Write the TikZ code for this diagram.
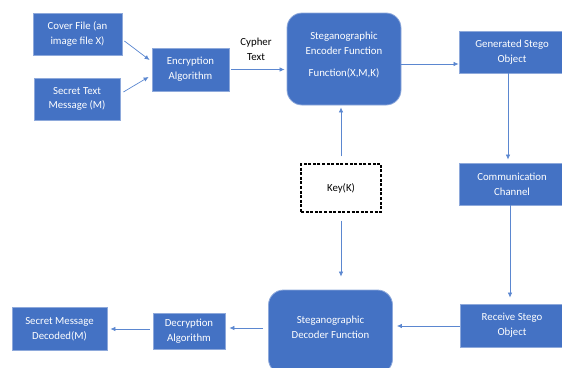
\documentclass[tikz,border=0pt]{standalone}
\usepackage{fontspec}
\setmainfont{Carlito}
\usetikzlibrary{arrows.meta,calc}
\definecolor{boxblue}{HTML}{4472C4}
\definecolor{boxedge}{HTML}{8EA9DB}
\definecolor{arrowblue}{HTML}{5B87D0}
\tikzset{
  txt/.style={font=\fontsize{10.8}{14.8}\selectfont},
  bluebox/.style={draw=boxedge, line width=0.8pt, fill=boxblue, text=white, align=center,
    txt, inner sep=0pt},
  roundbox/.style={bluebox, rounded corners=15pt},
  keybox/.style={draw=black, dash pattern=on 3pt off 1.6pt, line width=1.1pt, fill=white, align=center,
    txt, inner sep=0pt},
  plaintext/.style={align=center, txt, inner sep=0pt},
  conn/.style={draw=arrowblue, line width=0.7pt, -{Latex[length=5pt,width=4.5pt]}}
}
\begin{document}
\begin{tikzpicture}[x=1pt,y=-1pt]
\useasboundingbox (0,0) rectangle (562,367);
% top row
\node[bluebox, minimum width=89pt, minimum height=42pt] (cover) at (77.5,34) {Cover File (an\\image file X)};
\node[bluebox, minimum width=86pt, minimum height=42pt] (secret) at (77,99) {Secret Text\\Message (M)};
\node[bluebox, minimum width=77pt, minimum height=43pt] (enc) at (190.5,69.5) {Encryption\\Algorithm};
\node[plaintext] (cypher) at (256,49) {Cypher\\Text};
\node[roundbox, minimum width=114pt, minimum height=92pt] (enco) at (344,59) {};
\node[plaintext, text=white] (encotext) at (344,55) {Steganographic\\Encoder Function\\[7pt]Function(X,M,K)};
\node[bluebox, minimum width=106pt, minimum height=42pt] (gen) at (512,52) {Generated Stego\\Object};
% middle
\node[keybox, minimum width=80pt, minimum height=48pt] (key) at (341,188) {Key(K)};
\node[bluebox, minimum width=106pt, minimum height=42pt] (comm) at (512,184) {Communication\\Channel};
% bottom row
\node[bluebox, minimum width=104pt, minimum height=43pt] (recv) at (512,325.5) {Receive Stego\\Object};
\node[roundbox, minimum width=124pt, minimum height=84pt] (dec) at (330.5,332) {};
\node[plaintext, text=white] (dectext) at (330.5,327) {Steganographic\\Decoder Function};
\node[bluebox, minimum width=72pt, minimum height=36pt] (decr) at (189,331) {Decryption\\Algorithm};
\node[bluebox, minimum width=95pt, minimum height=43pt] (smd) at (59.5,329) {Secret Message\\Decoded(M)};
% connectors
\draw[conn] ($(cover.east)+(2,7)$) -- ($(enc.west)+(-2,-9.5)$);
\draw[conn] ($(secret.east)+(3,-7)$) -- ($(enc.west)+(-3,7.5)$);
\draw[conn] ($(enc.east)+(2,0)$) -- ($(enc.east -| enco.west)+(-2,0)$);
\draw[conn] ($(enco.east)+(0,5)$) -- ($(enco.east -| gen.west)+(0,5)$);
\draw[conn, shorten >=3pt] ($(gen.south)+(-4,0)$) -- ($(comm.north)+(-4,0)$);
\draw[conn, shorten >=6pt] ($(comm.south)+(-2,0)$) -- ($(recv.north)+(-2,0)$);
\draw[conn, shorten >=4pt] ($(recv.west)+(0,0.5)$) -- ($(recv.west -| dec.east)+(0,0.5)$);
\draw[conn, shorten <=5pt, shorten >=4pt] ($(dec.west)+(0,-4)$) -- ($(dec.west -| decr.east)+(0,-4)$);
\draw[conn, shorten <=3pt, shorten >=3pt] ($(decr.west)+(0,-2)$) -- ($(decr.west -| smd.east)+(0,-2)$);
\draw[conn, shorten <=7pt, shorten >=2pt] (key.north) -- (key.north |- enco.south);
\draw[conn, shorten <=8pt, shorten >=13pt] (key.south) -- (key.south |- dec.north);
\end{tikzpicture}
\end{document}
